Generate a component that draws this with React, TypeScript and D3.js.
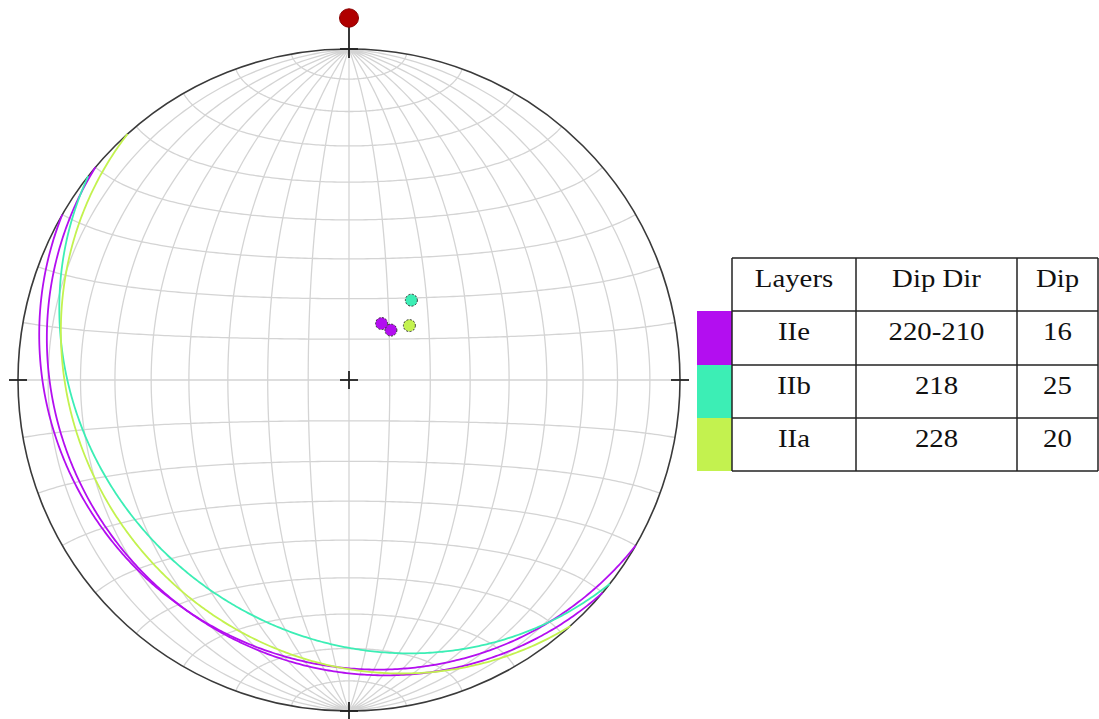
import React from "react";
import * as d3 from "d3";

const WIDTH = 1099;
const HEIGHT = 719;

// Legend table content
const headerLabels = ["Layers", "Dip Dir", "Dip"];
const layerNames = ["IIe", "IIb", "IIa"];
const dipDirLabels = ["220-210", "218", "228"];
const dipLabels = ["16", "25", "20"];
const layerColors = ["#b30ef0", "#3ceeb5", "#c3f24f"];

// Measured bedding planes (dip direction / dip, degrees)
const planeLayer = ["IIe", "IIe", "IIb", "IIa"];
const planeDipDir = [220, 210, 218, 228];
const planeDip = [16, 16, 25, 20];

// Net grid spacing (degrees)
const meridianLons = d3.range(-80, 81, 10);
const parallelLats = d3.range(-80, 81, 10);

const CX = 349;
const CY = 380;
const R = 331;

const rad = Math.PI / 180;
const deg = 180 / Math.PI;

// Lower-hemisphere equal-area (Schmidt) net: the view looks straight down,
// so "down" maps to the projection centre, east to lon 90 and north to lat 90.
const projection = d3
  .geoAzimuthalEqualArea()
  .scale(R / Math.SQRT2)
  .translate([CX, CY])
  .rotate([0, 0]);
const geoPath = d3.geoPath(projection);

function toLonLat(trend: number, plunge: number): [number, number] {
  const t = trend * rad;
  const p = plunge * rad;
  const e = Math.cos(p) * Math.sin(t);
  const n = Math.cos(p) * Math.cos(t);
  const d = Math.sin(p);
  return [Math.atan2(e, d) * deg, Math.asin(Math.max(-1, Math.min(1, n))) * deg];
}

function greatCircle(dipDir: number, dip: number): [number, number][] {
  const pts: [number, number][] = [];
  for (let a = -90; a <= 90; a += 0.5) {
    const trend = dipDir + a;
    const plunge = Math.atan(Math.tan(dip * rad) * Math.cos(a * rad)) * deg;
    pts.push(toLonLat(trend, Math.max(0, plunge)));
  }
  return pts;
}

const gridLines = {
  type: "MultiLineString",
  coordinates: [
    ...meridianLons.map((lon) => d3.range(-90, 90.01, 1).map((lat) => [lon, lat])),
    ...parallelLats.map((lat) => d3.range(-90, 90.01, 1).map((lon) => [lon, lat])),
  ],
};

function colorOf(layer: string) {
  return layerColors[layerNames.indexOf(layer)];
}

const colX = [732, 856, 1017, 1098];
const rowY = [258, 311, 365, 418, 471];
const swatchX = 697;

function Cell({ x, y, text }: { x: number; y: number; text: string }) {
  return (
    <text
      transform={`translate(${x},${y}) scale(1.13,1)`}
      textAnchor="middle"
      fontFamily="'Liberation Serif', 'Times New Roman', serif"
      fontSize={25.5}
      fill="#111"
    >
      {text}
    </text>
  );
}

export default function App() {
  const tick = 9;
  const rows = [headerLabels, ...layerNames.map((n, i) => [n, dipDirLabels[i], dipLabels[i]])];
  return (
    <svg
      width={WIDTH}
      height={HEIGHT}
      style={{ position: "absolute", left: 0, top: 0, display: "block", background: "#fff" }}
    >
      {/* net grid */}
      <path d={geoPath(gridLines as any) || ""} fill="none" stroke="#d4d4d4" strokeWidth={1.3} />
      {/* primitive circle */}
      <circle cx={CX} cy={CY} r={R} fill="none" stroke="#3a3a3a" strokeWidth={1.6} />

      {/* great circles */}
      {planeDipDir.map((dd, i) => (
        <path
          key={"gc" + i}
          d={geoPath({ type: "LineString", coordinates: greatCircle(dd, planeDip[i]) } as any) || ""}
          fill="none"
          stroke={colorOf(planeLayer[i])}
          strokeWidth={1.8}
        />
      ))}

      {/* poles */}
      {planeDipDir.map((dd, i) => {
        const p = projection(toLonLat((dd + 180) % 360, 90 - planeDip[i]))!;
        return (
          <circle
            key={"pole" + i}
            cx={p[0]}
            cy={p[1]}
            r={6}
            fill={colorOf(planeLayer[i])}
            stroke="#333"
            strokeWidth={1}
            strokeDasharray="2,1.5"
          />
        );
      })}

      {/* cardinal ticks */}
      <g stroke="#222" strokeWidth={1.8}>
        <line x1={CX - tick} x2={CX + tick} y1={CY} y2={CY} />
        <line x1={CX} x2={CX} y1={CY - tick} y2={CY + tick} />
        <line x1={CX - R - tick} x2={CX - R + tick} y1={CY} y2={CY} />
        <line x1={CX + R - tick} x2={CX + R + tick} y1={CY} y2={CY} />
        <line x1={CX - tick} x2={CX + tick} y1={CY + R} y2={CY + R} />
        <line x1={CX} x2={CX} y1={CY + R - tick} y2={CY + R + tick} />
        <line x1={CX - tick} x2={CX + tick} y1={CY - R} y2={CY - R} />
        <line x1={CX} x2={CX} y1={CY - R + tick} y2={24} />
      </g>
      {/* north marker */}
      <ellipse cx={CX} cy={18} rx={9.5} ry={9.2} fill="#b00000" stroke="#8a0000" strokeWidth={1} />

      {/* legend table */}
      {layerColors.map((c, i) => (
        <rect
          key={"sw" + i}
          x={swatchX}
          y={rowY[i + 1]}
          width={colX[0] - swatchX}
          height={rowY[i + 2] - rowY[i + 1]}
          fill={c}
        />
      ))}
      <g stroke="#222" strokeWidth={1.5}>
        {rowY.map((y, i) => (
          <line key={"h" + i} x1={colX[0]} x2={colX[3]} y1={y} y2={y} />
        ))}
        {colX.map((x, i) => (
          <line key={"v" + i} x1={x} x2={x} y1={rowY[0]} y2={rowY[4]} />
        ))}
      </g>
      {rows.map((r, ri) =>
        r.map((t, ci) => (
          <Cell
            key={ri + "-" + ci}
            x={(colX[ci] + colX[ci + 1]) / 2}
            y={(rowY[ri] + rowY[ri + 1]) / 2 + 2}
            text={t}
          />
        ))
      )}
    </svg>
  );
}
